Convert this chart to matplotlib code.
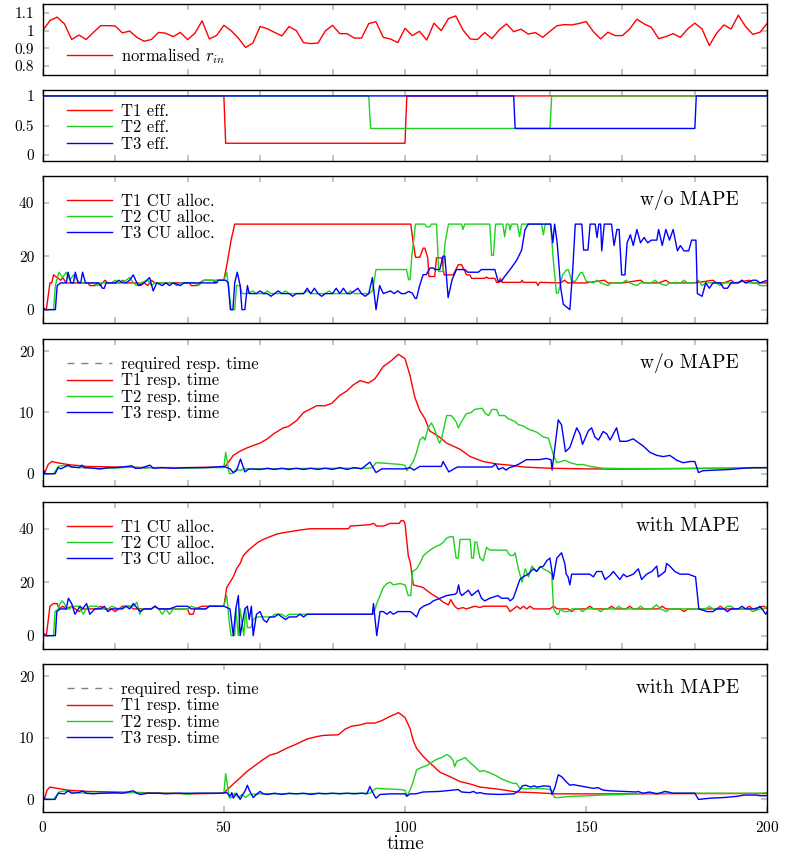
import numpy as np
import matplotlib.pyplot as plt
from matplotlib.ticker import FuncFormatter

plt.rcParams['font.family'] = 'serif'
plt.rcParams['font.serif'] = ['cmr10']
plt.rcParams['mathtext.fontset'] = 'cm'
plt.rcParams['axes.formatter.use_mathtext'] = True

# ---- data (time, value) ----
r_in_t = np.arange(0, 201, 2)
r_in = [1.0, 1.057, 1.076, 1.038, 0.95, 0.975, 0.95, 0.99, 1.028, 1.028,
        1.026, 0.987, 0.998, 0.962, 0.94, 0.95, 0.99, 0.985, 0.966, 0.99,
        0.949, 0.985, 1.055, 0.953, 0.973, 1.03, 1.0, 0.958, 0.905, 0.93,
        1.023, 1.011, 0.99, 0.97, 1.023, 1.0, 0.932, 0.927, 0.93, 0.998,
        1.03, 0.983, 0.983, 0.958, 0.958, 1.04, 1.05, 0.962, 0.953, 0.932,
        1.013, 0.972, 0.996, 0.947, 1.042, 1.0, 1.068, 1.083, 1.004, 0.953,
        0.95, 0.989, 0.955, 1.004, 1.038, 0.994, 1.008, 0.981, 0.989, 0.962,
        0.996, 1.028, 1.034, 1.032, 1.04, 1.051, 0.994, 0.953, 0.991, 0.972,
        0.972, 1.009, 1.064, 1.038, 1.019, 0.955, 0.966, 0.983, 0.962, 1.009,
        1.042, 1.009, 0.916, 0.985, 1.032, 1.009, 1.087, 1.023, 0.979, 0.991,
        1.042]

eff_t1 = [(0, 1), (50, 1), (50.5, 0.2), (100, 0.2), (100.5, 1), (200, 1)]
eff_t2 = [(0, 1), (90, 1), (90.5, 0.45), (140, 0.45), (140.5, 1), (200, 1)]
eff_t3 = [(0, 1), (130, 1), (130.4, 0.45), (180, 0.45), (180.4, 1), (200, 1)]

cu_nomape_t1 = [
    (0, 0), (1, 0), (2, 10), (2.5, 10), (3, 13), (4, 12), (5, 11), (5.5, 12), (6.5, 10),
    (12.5, 10), (13, 9), (14.5, 9), (15, 10), (15.8, 9), (16.5, 10), (17.2, 11), (18, 10),
    (21.5, 10), (22, 11), (23, 10), (26.5, 10), (27, 9), (28, 10), (29, 9), (30, 11), (31, 10),
    (40.5, 10), (41, 9), (42.5, 9), (43.3, 10), (44.5, 11), (47, 11), (47.5, 10), (48, 11),
    (50, 11), (51, 18), (52, 26), (53, 32), (101.6, 32), (102.2, 25.6), (102.9, 19.6),
    (104.1, 19.6), (105, 23), (105.5, 23), (106.3, 19.2), (106.6, 12.4), (108.2, 12.4),
    (108.7, 19.4), (110.1, 19.4), (110.8, 13), (113.3, 13), (114.7, 16.8), (115.6, 16.8),
    (117, 13), (117.9, 13), (118.4, 11.7), (122, 11.7), (122.5, 12.2), (123, 11.7),
    (124.8, 11.7), (125.3, 10.2), (126, 10.2), (126.3, 11.7), (126.8, 10.2), (132, 10.2),
    (132.3, 11), (132.7, 10.2), (136.3, 10.2), (136.7, 9), (137.2, 10.2), (143, 10), (144, 11),
    (145, 10), (150, 10), (155, 11), (156, 10), (160, 10), (165, 11), (166, 10), (170, 10),
    (172, 11), (173, 10), (180, 10), (185, 11), (186, 10), (188, 10), (190, 11), (191, 10),
    (195, 11), (196, 10), (200, 10)]
cu_nomape_t2 = [
    (0, 0), (3, 0), (3.5, 9), (4.5, 14), (5.5, 12), (6.5, 14), (7.5, 11), (8.5, 13), (9.5, 11),
    (10.5, 10), (14, 10), (15, 9), (16, 10), (19, 10), (20, 11), (21, 10), (23, 11), (24, 12),
    (25, 10), (26, 9), (27, 10), (29, 11), (30, 9), (31, 10), (36, 10), (37, 9), (38, 10),
    (42, 10), (43, 9), (44.5, 11), (50, 11), (50.8, 14), (51.5, 6), (52, 0), (53, 0),
    (53.5, 9), (54.5, 9), (55, 6), (56.5, 6), (58, 7), (59, 6), (61, 6), (62, 7), (63, 6),
    (66, 6), (67, 7), (68, 6), (72, 6), (73, 7), (74, 6), (78, 6), (79, 7), (80, 6), (84, 6),
    (85, 7), (86, 6), (90, 6), (91, 7), (92, 15), (100.4, 15), (101, 11.2), (101.4, 11.2),
    (101.9, 20.3), (102.9, 32), (105.5, 32), (106, 31), (106.9, 31), (107.3, 32), (108.7, 32),
    (109.3, 14.3), (110.5, 14.3), (111, 24.5), (112, 32), (115.6, 32), (116, 30), (116.5, 32),
    (123.4, 32), (123.9, 20.3), (124.4, 20.3), (125, 32), (127, 32), (127.5, 27.3), (128, 32),
    (128.7, 32), (129, 29.8), (129.4, 32), (131, 32), (131.6, 27.3), (132.2, 32), (137.7, 32),
    (138.2, 28), (138.7, 32), (140.2, 32), (140.9, 19), (141.8, 6.2), (142.3, 6.2),
    (143.5, 13), (144.6, 14.9), (145.1, 14.9), (146, 10.6), (147, 10.6), (148.5, 13.9),
    (149, 13.9), (150, 10.6), (152, 10), (153, 11), (154, 10), (156, 9), (157, 10), (160, 10),
    (161, 11), (162, 10), (164, 9), (165, 10), (168, 10), (169, 11), (170, 10), (172, 9),
    (173, 10), (176, 10), (177, 11), (178, 10), (180, 10), (181, 11), (182, 9), (183, 10),
    (186, 10), (187, 9), (188, 10), (192, 10), (193, 11), (194, 10), (197, 10), (198, 9),
    (200, 9)]
cu_nomape_t3 = [
    (0, 1), (0.7, 0), (3.5, 0), (4, 9), (5, 10), (6.5, 10), (7, 14), (7.8, 10), (8.5, 10),
    (9, 14), (9.8, 10), (10.5, 10), (11, 14), (11.8, 10), (15.5, 10), (16.5, 8), (17, 8),
    (17.5, 10), (20, 10), (21, 11), (22, 10), (23, 10), (24, 11), (25, 13), (26, 10), (26.5, 9),
    (28, 10), (29.5, 12), (30.5, 7), (31.5, 10), (33, 9), (34, 10), (35, 9), (36, 10), (38, 9),
    (39, 10), (48, 10), (48.5, 11), (50.5, 11), (51.2, 10), (51.8, 0), (52.5, 0), (53, 10),
    (53.7, 14), (54.5, 9), (55, 0), (55.8, 0), (56.5, 9), (57, 6), (59, 6), (60, 7), (61, 6),
    (62, 6), (63, 5), (64, 6), (65, 7), (66, 6), (68, 6), (69, 5), (70, 6), (72, 6), (73, 8),
    (74, 6), (75, 8), (76, 6), (77, 5), (78, 6), (80, 6), (81, 8), (82, 6), (83, 8), (84, 6),
    (85, 6), (86, 7), (87, 8), (88, 6), (89, 5), (90, 6), (91, 12), (92, 0), (93, 9), (94, 6),
    (96, 7), (97, 6), (98, 7), (99, 6), (100, 6), (101, 6.8), (102, 6.2), (102.8, 4.2),
    (103.2, 4.2), (104, 8.8), (105, 13.1), (105.9, 13.1), (106.9, 15.6), (107.8, 15.6),
    (108.3, 15), (109.6, 15), (110.5, 20), (111, 20), (111.9, 4.5), (113, 11.2), (114.2, 15),
    (116.5, 15), (117.3, 14), (120.2, 14), (121.1, 15), (124.8, 15), (125.7, 10.6),
    (126.6, 10.6), (127.5, 12.4), (129, 15), (130.8, 18.4), (132.2, 22.3), (133.1, 29.8),
    (134, 32), (140.2, 32), (140.8, 25), (141.3, 32), (142, 25), (143, 8), (143.7, 2),
    (145.5, 0), (146.3, 15), (147, 32), (148.8, 32), (149.3, 22.3), (150.5, 22.3), (151.1, 32),
    (152.5, 32), (153, 27), (153.5, 32), (154, 32), (154.3, 22), (155, 32), (157, 32),
    (157.7, 24), (158.5, 30), (159.1, 30), (159.8, 13), (160.7, 13), (161.3, 25), (162.2, 28),
    (163, 24), (164, 30), (165, 25), (166, 27), (167, 25), (168, 26), (169.5, 26), (170, 30),
    (171, 24), (172, 30), (173, 26), (174, 30), (175.2, 22), (176, 24), (177, 22), (178.3, 22),
    (179.1, 26), (180.3, 26), (180.7, 6), (182, 5), (183, 10), (184, 8), (185, 10), (187, 10),
    (188, 8), (189, 8), (190, 10), (192, 10), (193, 11), (194, 10), (196, 11), (197, 11),
    (198, 10), (200, 11)]

rt_nomape_t1 = [
    (0, 0.8), (0.6, 0.2), (1.5, 1.5), (2.5, 2), (4, 1.8), (7, 1.5), (12, 1.2), (20, 1.1),
    (30, 1.0), (40, 1.0), (45, 1.05), (50, 1.1), (50.8, 1.5), (52.6, 3), (54.5, 3.7),
    (56.3, 4.2), (59, 4.8), (60, 5), (62, 5.7), (63.7, 6.5), (66.4, 7.5), (67.8, 7.7),
    (70.1, 8.7), (72, 10), (74, 10.6), (75.6, 11.1), (77.9, 11.1), (79.8, 11.5), (82, 12.8),
    (83.9, 13.5), (85.7, 14.5), (87.6, 15.2), (89.9, 14.8), (91.7, 15.5), (94, 17.5),
    (96.3, 18.5), (98.2, 19.5), (100, 18.8), (101.4, 16), (102.7, 12.5), (104.1, 10.3),
    (105.5, 9), (106.8, 7), (108.2, 6.5), (109.7, 5.9), (111.5, 5), (115.2, 4), (118, 2.8),
    (121.6, 2), (125.3, 1.6), (129, 1.4), (132.7, 1.1), (140, 0.9), (150, 0.8), (160, 0.75),
    (170, 0.8), (180, 0.85), (190, 0.9), (200, 1.0)]
rt_nomape_t2 = [
    (0, 0), (3, 0), (4.3, 1.2), (6, 1.4), (8, 1.1), (10, 1.0), (14, 1.0), (15, 0.8), (18, 0.9),
    (22, 1.0), (25, 1.1), (28, 0.9), (30, 1.0), (35, 1.0), (40, 0.9), (45, 1.0), (50, 1.0),
    (50.5, 3.5), (51.5, 0), (52.6, 0.1), (53.5, 0.8), (54.5, 0.5), (55.5, 0.8), (60, 0.8),
    (70, 0.85), (80, 0.9), (90, 0.9), (91, 1.0), (92, 1.8), (95, 1.7), (99, 1.5), (100, 1.36),
    (100.5, 0.5), (102.3, 2), (103.2, 3.5), (104.1, 5.5), (105, 6), (105.5, 5.5), (106.4, 7.5),
    (107.3, 8.3), (108, 7.5), (109.5, 5), (110, 5.5), (111.5, 9.5), (112.8, 9.5), (114.1, 8.5),
    (114.7, 7.5), (115.6, 8.5), (116.9, 9.8), (118.3, 10), (119.2, 10.5), (121.3, 10.7),
    (122.2, 9.8), (123.1, 9.5), (124, 10.5), (125.3, 10.5), (126, 9.5), (127.5, 9.5),
    (128.5, 9), (130.4, 8.5), (131.3, 8), (132.7, 7.8), (134, 7.3), (136.3, 6.8), (138.2, 6),
    (139.6, 5.8), (141, 3), (141.9, 1.8), (144.2, 2.2), (145.6, 1.8), (147.5, 1.5),
    (149.3, 1.5), (151, 1.2), (154.7, 0.9), (160, 0.85), (170, 0.85), (180, 0.9), (190, 0.9),
    (200, 1.0)]
rt_nomape_t3 = [
    (0, 0.8), (0.6, 0), (3.4, 0), (4.3, 1.0), (5, 0.8), (7, 1.4), (8, 1.1), (10, 1.0),
    (10.8, 1.4), (11.5, 1.0), (14, 0.9), (16, 0.8), (18, 1.0), (20, 1.0), (22, 1.1),
    (24.6, 1.3), (25.5, 0.9), (27, 0.9), (29.6, 1.4), (30.5, 0.9), (33, 1.0), (36, 0.9),
    (40, 1.0), (45, 1.0), (50, 1.2), (51.7, 0.8), (52.6, 0.2), (53.5, 0.5), (54.6, 2.4),
    (55.8, 0.3), (57, 0.8), (60, 0.7), (62, 0.9), (64, 0.7), (66, 0.9), (68, 0.7), (70, 0.9),
    (72, 0.7), (74, 0.9), (76, 0.7), (78, 0.9), (80, 0.7), (82, 1.0), (84, 0.7), (86, 1.0),
    (88, 0.8), (90.3, 1.9), (92, 0.2), (93.6, 0.8), (97, 0.8), (100, 0.8), (101.4, 1.0),
    (102.5, 0.6), (104.1, 1.2), (110, 1.2), (110.5, 2), (112.1, 0.3), (113.5, 0.8),
    (114.5, 1.1), (124, 1.1), (125, 1.6), (125.8, 0.7), (127, 1.0), (127.9, 0.6), (128.8, 1.0),
    (130, 1.2), (131.5, 1.6), (133.5, 2.3), (137, 2.3), (139, 2.5), (140.3, 2.3), (140.6, 0.6),
    (142.3, 8.8), (143.2, 8), (144.3, 3.6), (145.5, 4.3), (147.4, 7.5), (148.3, 6.5),
    (149, 4.8), (150.6, 7), (151.5, 7.5), (152.4, 6), (153.4, 5.5), (154.7, 6.9), (155.7, 6.5),
    (156.6, 5.5), (158.4, 7.5), (159.3, 5.3), (161.2, 5.3), (163, 5.7), (163.9, 5.3),
    (165.8, 4.5), (167.6, 3.5), (169.5, 3), (171.3, 2.8), (173.1, 3), (175, 2.2), (176.8, 1.8),
    (178.7, 2), (180, 2), (181, 0.2), (182.3, 0.5), (186.1, 0.6), (189.7, 0.7), (193.3, 0.9),
    (196, 1.0), (200, 1.0)]

cu_mape_t1 = [
    (0, 0), (1, 0), (2, 11), (3, 12), (4, 12), (4.5, 10), (5.5, 11), (6.5, 10), (8, 11), (9, 10),
    (10, 9), (11, 10), (15, 10), (16, 11), (17, 10), (19, 10), (20, 9), (21, 10), (22, 11),
    (24, 11), (25, 10), (30, 10), (31, 11), (32, 10), (40, 10), (40.5, 8), (41.5, 8), (42, 10),
    (44, 11), (50, 11), (50.8, 18), (51.7, 20), (52.6, 22), (53.5, 25), (54.5, 27), (55.4, 30),
    (56.8, 32), (58.1, 33.5), (59.5, 35), (60.9, 36), (62.7, 37), (64.6, 38), (66.4, 38.5),
    (68.7, 39), (71, 39.5), (73.8, 40), (84.4, 40), (84.9, 41), (90.3, 41.5), (91.3, 42),
    (92.2, 41), (94.1, 41), (95.9, 42), (98.4, 42), (98.9, 43), (99.6, 43), (100, 42),
    (100.9, 30), (101.5, 27), (102.3, 19), (105, 18), (105.9, 17), (106.9, 16), (109.2, 14),
    (110.6, 12.5), (112, 11.5), (112.6, 13.5), (113.7, 11), (114.6, 10), (116, 10.5),
    (116.9, 10), (119.3, 11), (120.7, 10.5), (121.6, 11), (128.1, 11), (129, 9), (130.9, 11),
    (131.8, 10), (132.7, 11), (133.6, 10), (134.5, 11), (135.5, 10), (140, 10), (141, 11),
    (142, 10), (145, 10), (146, 9), (147, 10), (150, 10), (151, 11), (152, 10), (156, 10),
    (157, 11), (158, 10), (161, 10), (162, 11), (163, 10), (170, 10), (171, 11), (172, 10),
    (176, 10), (177, 9), (178, 10), (186, 10), (187, 11), (188, 10), (194, 10), (195, 11),
    (196, 10), (199, 11), (200, 10)]
cu_mape_t2 = [
    (0, 0), (3, 0), (3.4, 9), (4.3, 10), (4.8, 12), (5.3, 13), (6, 12), (6.5, 10), (7.5, 10),
    (8, 11), (10, 11), (11.2, 8), (12, 10), (13, 11), (15, 11), (16, 10), (18, 10), (19, 11),
    (21, 10), (23, 11), (25, 11), (26, 12.5), (26.8, 8), (27.5, 10), (30, 10), (31, 11),
    (32, 10), (33, 8), (34, 10), (35, 8), (36, 10), (40, 10), (41, 11), (43, 10), (45, 10),
    (46, 11), (50, 11), (50.8, 15), (51.5, 5), (52, 0), (53, 0), (53.3, 10), (54, 0),
    (54.5, 10), (55.5, 0), (56, 10), (56.5, 3), (57.5, 3), (58.1, 6), (59, 7), (63.2, 7),
    (64, 8), (66, 8), (67, 7), (68, 8), (90.3, 8), (91.3, 8), (92.2, 12), (93.1, 15), (94, 18),
    (95, 19.5), (95.9, 20), (96.8, 19), (98.6, 19.5), (100, 19), (100.9, 15), (101.6, 15),
    (102.1, 24), (103.2, 25), (104.1, 27), (105.1, 30), (106, 31), (106.9, 32), (108.7, 33.5),
    (109.7, 34), (110.6, 35), (111.5, 36.5), (112.4, 37), (113.3, 37), (114.1, 29),
    (114.7, 29), (115.2, 36), (118, 36), (118.4, 29), (118.9, 29), (119.3, 35), (119.8, 35),
    (120.7, 29), (121.6, 28), (122.5, 33), (123.4, 32), (128, 32), (128.5, 31), (129, 30),
    (129.9, 30), (130.4, 31), (131.3, 25), (132.3, 20), (133.2, 25), (134.1, 22), (135, 26),
    (136.4, 24), (137.3, 26), (138.2, 25), (139.6, 24), (140.5, 23), (141, 10), (141.5, 9),
    (141.9, 8), (142.4, 8), (142.9, 10), (143.8, 9), (145, 9), (146, 10), (148, 10), (149, 9),
    (150, 10), (153, 10), (154, 9), (155, 10), (158, 10), (159, 11), (160, 10), (164, 10),
    (165, 11), (166, 10), (168, 10), (169.4, 11.5), (170.5, 10), (172.2, 9), (173, 10),
    (183, 10), (184, 11), (185, 10), (188, 10), (189, 11), (190, 11), (191, 10), (195, 10),
    (196, 9), (198, 10), (199, 10), (200, 11)]
cu_mape_t3 = [
    (0, 1), (1, 0), (3.5, 0), (3.9, 9), (4.8, 10), (6.5, 10), (7.1, 14), (8, 12), (8.9, 8),
    (10.3, 11), (11, 10), (12.1, 12), (13, 8), (14.4, 10), (16, 10), (17, 11), (18, 9),
    (19, 10), (22, 10), (23, 11), (24, 10), (25, 12), (26.9, 9), (28, 10), (30, 10), (31, 11),
    (32, 10), (35, 10), (37, 11), (40, 11), (41, 10), (45, 10), (46, 11), (50, 11),
    (51.7, 10), (52.6, 0), (53.3, 10), (54, 15), (54.5, 0), (55.8, 10), (56.5, 11), (57, 6),
    (57.6, 11), (58.1, 0), (59, 8), (60, 9), (60.9, 6), (61.8, 5), (62.7, 7), (64, 7), (65, 8),
    (66, 7), (67, 6), (68, 7), (70, 7), (71, 8), (72, 7), (73, 8), (91, 8), (91.3, 12),
    (92.2, 0), (93.1, 9), (94, 9), (95, 8), (95.9, 9), (96.8, 8), (98, 9), (101.4, 9),
    (102, 8.5), (103.2, 7), (104.1, 10), (105.1, 11), (106.9, 12), (107.8, 13), (109.7, 14),
    (111.5, 15), (113.8, 15.5), (114.3, 16), (114.8, 19), (115.2, 16), (115.7, 15),
    (117.5, 17), (118.4, 15), (119.3, 16), (120.2, 17), (121.1, 14), (122, 13), (123.4, 14),
    (125.7, 15), (126.6, 14), (128.5, 14), (129, 13), (129.9, 14), (131.7, 21), (132.6, 22),
    (134, 23), (135.4, 25), (136.3, 24), (137.2, 25.5), (138.2, 26), (139.1, 28), (140, 29),
    (140.9, 21), (141.9, 29), (143.2, 31), (144.1, 27), (144.5, 23), (145, 22), (145.5, 19),
    (146, 23), (151, 23), (152, 22), (152.9, 24), (154.3, 24), (155.2, 21), (156.6, 22.5),
    (157.5, 24), (159.3, 21), (160.3, 23), (161.2, 22), (163, 23), (164.4, 25), (165.3, 21),
    (166.7, 23), (168.1, 24), (169.5, 26), (169.9, 22), (171.8, 24), (172.2, 27), (173.1, 26),
    (174.5, 24), (175.9, 23), (178.2, 23), (180.2, 22), (181.1, 10), (183.4, 9), (185, 9),
    (186, 10), (188, 10), (189, 9), (190, 10), (192, 10), (193, 11), (194, 10), (197, 10),
    (198, 11), (199.6, 8), (200, 9)]

rt_mape_t1 = [
    (0, 0.7), (0.5, 0.1), (1.2, 1.5), (2, 2), (4, 1.8), (7, 1.5), (12, 1.3), (20, 1.2),
    (28, 1.1), (35, 1.0), (40, 0.9), (45, 0.95), (50, 1.0), (50.8, 1.5), (52.6, 2.5),
    (54.5, 3.5), (56.3, 4.5), (58.6, 5.5), (60.9, 6.5), (62.7, 7.2), (64.6, 7.5), (67.3, 8.3),
    (70.1, 9), (72.9, 9.8), (75.6, 10.2), (77.5, 10.4), (81.6, 10.5), (83.4, 11.4),
    (85.3, 11.9), (87.6, 12.1), (89.4, 12.4), (91.7, 12.4), (93.6, 12.8), (95.9, 13.5),
    (98.2, 14.1), (100, 13.3), (101.4, 11.5), (102.3, 9.5), (103.2, 8.3), (105, 7),
    (106.9, 5.9), (109.7, 4.4), (112.4, 3.7), (115.2, 2.9), (118, 2.5), (120.7, 2.0),
    (125.3, 1.7), (130.9, 1.2), (135.5, 1.1), (141.9, 0.9), (160, 0.9), (180, 0.95),
    (200, 0.95)]
rt_mape_t2 = [
    (0, 0), (3, 0), (4.5, 1.2), (6, 1.4), (8, 1.2), (12, 1.0), (20, 1.0), (25, 1.1), (30, 1.0),
    (38, 1.0), (40, 0.8), (42, 1.0), (50, 1.0), (50.5, 4.2), (51.5, 0.2), (52, 0.3), (53, 1.0),
    (54, 0.3), (55, 0.8), (56, 0.3), (57, 0.8), (60, 0.9), (90.3, 1.0), (92, 1.8), (95, 1.7),
    (98.6, 1.6), (100, 1.5), (100.5, 0.6), (101.4, 1.5), (102.3, 3), (103.2, 4.8),
    (104.6, 5.2), (106, 5.5), (107.3, 6), (108.7, 6.5), (110.1, 6.8), (111.5, 7.3),
    (112.4, 7.0), (113.3, 6.3), (113.7, 5.3), (114.3, 6.2), (115.6, 6.5), (116.6, 6.8),
    (117.9, 6), (118.9, 5.5), (120.7, 4.5), (121.6, 4.7), (123.5, 4.3), (125.3, 3.8),
    (127.1, 3.2), (129, 2.8), (129.8, 2.6), (130.8, 2.6), (131.7, 1.8), (133.6, 1.7),
    (136.3, 1.8), (139, 1.7), (140.4, 1.5), (141.3, 0.3), (142.2, 0.3), (146.2, 0.5),
    (150.8, 0.6), (154.5, 0.7), (160, 0.8), (163.7, 0.9), (167.4, 1.0), (198, 1.0),
    (200, 1.1)]
rt_mape_t3 = [
    (0, 0.5), (0.6, 0), (3.4, 0), (4.3, 1.0), (6, 0.9), (7, 1.4), (8, 1.0), (10, 1.1), (11, 1.4),
    (12, 1.0), (14, 0.9), (16, 1.0), (20, 1.1), (22, 1.0), (25, 1.4), (26, 1.0), (27, 0.8),
    (29, 1.0), (32, 1.0), (34, 0.9), (37, 1.0), (49, 1.0), (50.8, 1.1), (51.7, 0.5),
    (52.2, 1.1), (52.6, 0.2), (53.5, 1.0), (54.5, 0), (55.2, 0.8), (55.8, 1.3), (56.5, 2.3),
    (57, 1.5), (58.1, 0.3), (59, 0.8), (60, 1.3), (60.9, 0.9), (62, 0.8), (64, 1.0), (66, 0.8),
    (68, 1.0), (70, 0.9), (72, 1.0), (74, 0.8), (76, 1.0), (78, 0.9), (80, 1.0), (82, 0.9),
    (84, 1.0), (86, 0.9), (88, 1.0), (89.5, 0.9), (90.3, 2.1), (91.2, 1.0), (92, 0.2),
    (93.1, 0.8), (96, 0.9), (100, 0.9), (100.5, 0.5), (101.4, 0.9), (103, 0.9), (105, 1.2),
    (109.7, 1.3), (114.7, 1.6), (115.6, 1.2), (117.9, 1.1), (118.9, 1.3), (119.8, 1.0),
    (120.7, 1.1), (122.1, 0.9), (126, 0.8), (130.1, 0.9), (131.6, 1.5), (132.4, 2.2),
    (133.3, 2.3), (134.7, 2.0), (135.6, 2.2), (136.5, 2.0), (138.3, 2.2), (140, 2.1),
    (140.6, 0.8), (141.4, 2.0), (142.3, 4), (143.2, 3.7), (144.6, 2.8), (145.5, 2.3),
    (146.4, 2.4), (148.2, 2.2), (150.1, 2.0), (151.9, 1.8), (153.3, 1.9), (154.7, 1.5),
    (156.5, 1.4), (160.2, 1.3), (163.9, 1.2), (164.3, 1.3), (165.7, 1.0), (167.5, 1.2),
    (169.4, 0.9), (170.3, 1.0), (171.7, 1.3), (172.6, 1.2), (174, 1.0), (180, 1.0), (181, 0),
    (184.4, 0.2), (188, 0.3), (191.7, 0.5), (193.5, 0.7), (197, 0.7), (198.1, 0.6),
    (200, 0.6)]

RED, GREEN, BLUE = '#ff0000', '#1ed21e', '#0000ff'
LW = 1.0
W, H = 790, 855


def xy(pairs):
    a = np.array(pairs, dtype=float)
    return a[:, 0], a[:, 1]


def make_axes(top, bottom):
    # pixel rows of the reference -> figure fractions
    return fig.add_axes([42.7 / W, 1 - bottom / H, 724.6 / W, (bottom - top) / H])


def style(ax, ylim, yticks, xticks):
    ax.set_xlim(0, 200)
    ax.set_ylim(*ylim)
    ax.set_xticks(xticks)
    ax.set_yticks(yticks)
    ax.yaxis.set_major_formatter(FuncFormatter(lambda v, p: f'{v:g}'))
    ax.tick_params(direction='in', top=True, right=True, length=4.5, width=1.1,
                   color='#b4b4b4', labelsize=11, pad=6)
    for s in ax.spines.values():
        s.set_linewidth(1.0)


def legend(ax, loc, anchor, spacing=0.05):
    ax.legend(loc=loc, bbox_to_anchor=anchor, frameon=False, fontsize=12,
              handlelength=2.75, handletextpad=0.5, labelspacing=spacing,
              borderpad=0, borderaxespad=0)


fig = plt.figure(figsize=(W / 100, H / 100), dpi=100)

# panel 1: normalised input rate
ax1 = make_axes(4, 75)
ax1.plot(r_in_t, r_in, color=RED, lw=LW, label=r'normalised $r_{in}$')
style(ax1, (0.75, 1.15), [0.8, 0.9, 1.0, 1.1], np.arange(0, 201, 20))
ax1.set_xticklabels([])
legend(ax1, 'lower left', (0.033, 0.13))

# panel 2: efficiencies
ax2 = make_axes(90, 161)
for pairs, c, lab in [(eff_t1, RED, 'T1 eff.'), (eff_t2, GREEN, 'T2 eff.'),
                      (eff_t3, BLUE, 'T3 eff.')]:
    ax2.plot(*xy(pairs), color=c, lw=LW, label=lab)
style(ax2, (-0.1, 1.1), [0, 0.5, 1], np.arange(0, 201, 20))
ax2.set_xticklabels([])
legend(ax2, 'upper left', (0.033, 1 - 13.5 / 71), spacing=0.07)

panels = [
    (176, 323, 'cu', [cu_nomape_t1, cu_nomape_t2, cu_nomape_t3], 'w/o MAPE'),
    (339, 486, 'rt', [rt_nomape_t1, rt_nomape_t2, rt_nomape_t3], 'w/o MAPE'),
    (502, 649, 'cu', [cu_mape_t1, cu_mape_t2, cu_mape_t3], 'with MAPE'),
    (664, 811.7, 'rt', [rt_mape_t1, rt_mape_t2, rt_mape_t3], 'with MAPE'),
]
for i, (top, bottom, kind, series, title) in enumerate(panels):
    ax = make_axes(top, bottom)
    hpx = bottom - top
    last = i == len(panels) - 1
    if kind == 'rt':
        # the requirement line itself does not show inside the plot, only in the legend
        ax.plot([], [], color='#808080', lw=LW, dashes=(5, 5), label='required resp. time')
        labels = ['T1 resp. time', 'T2 resp. time', 'T3 resp. time']
        style(ax, (-2, 22), [0, 10, 20],
              np.arange(0, 201, 50) if last else np.arange(0, 201, 20))
    else:
        labels = ['T1 CU alloc.', 'T2 CU alloc.', 'T3 CU alloc.']
        style(ax, (-5, 50), [0, 20, 40], np.arange(0, 201, 20))
    for pairs, c, lab in zip(series, [RED, GREEN, BLUE], labels):
        ax.plot(*xy(pairs), color=c, lw=LW, label=lab, zorder=2)
    legend(ax, 'upper left', (0.033, 1 - 17.5 / hpx))
    ax.text(0.961, 1 - 24 / hpx, title, transform=ax.transAxes,
            ha='right', va='center', fontsize=14)
    if last:
        ax.tick_params(axis='x', pad=6)
        ax.set_xlabel('time', fontsize=14, labelpad=0)
    else:
        ax.set_xticklabels([])

fig.savefig('out.png', dpi=100)
